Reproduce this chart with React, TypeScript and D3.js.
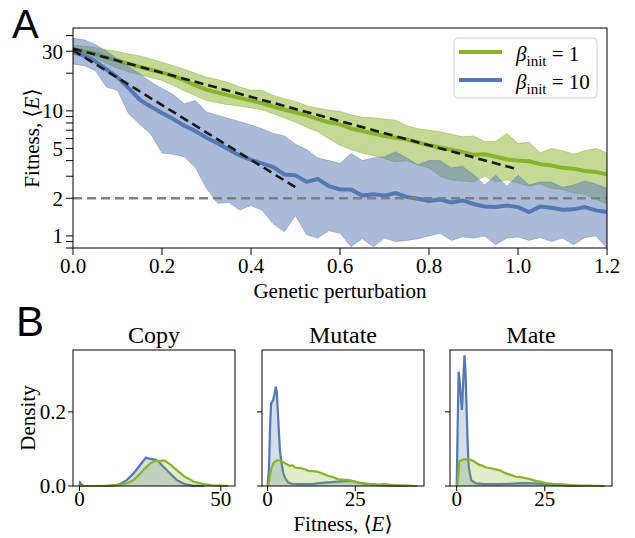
import React from "react";
import * as d3 from "d3";

// panel A: fitness vs genetic perturbation (mean and band for two beta_init)
const perturbation = [
  0, 0.025, 0.05, 0.075, 0.1, 0.125, 0.15, 0.175, 0.2, 0.225, 0.25, 0.275, 0.3, 0.325, 0.35, 0.375,
  0.4, 0.425, 0.45, 0.475, 0.5, 0.525, 0.55, 0.575, 0.6, 0.625, 0.65, 0.675, 0.7, 0.725, 0.75, 0.775,
  0.8, 0.825, 0.85, 0.875, 0.9, 0.925, 0.95, 0.975, 1.0, 1.025, 1.05, 1.075, 1.1, 1.125, 1.15, 1.175, 1.2
];
const meanBeta1 = [
  31.0, 30.0, 28.5, 26.8, 25.2, 23.8, 22.5, 21.3, 20.2, 19.0, 17.6, 16.0, 14.8, 14.0, 13.3, 12.7,
  12.1, 11.5, 10.8, 10.2, 9.7, 9.2, 8.6, 8.1, 7.8, 7.2, 6.9, 6.6, 6.3, 6.1, 5.9, 5.6,
  5.3, 5.1, 4.9, 4.7, 4.45, 4.5, 4.3, 4.1, 4.0, 3.95, 3.75, 3.65, 3.5, 3.45, 3.3, 3.25, 3.1
];
const upperBeta1 = [
  33.5, 33, 32, 30.8, 29.8, 28.5, 27.5, 26, 24.5, 23, 21.5, 20, 18.6, 17.8, 16.8, 15.5,
  14.6, 14.6, 13.3, 12.5, 11.9, 11.0, 10.5, 10.1, 9.9, 9.3, 8.9, 8.8, 8.6, 8.4, 7.6, 7.2,
  7.0, 6.8, 6.5, 6.2, 6.3, 5.7, 5.7, 6.6, 5.5, 5.6, 4.6, 5.0, 4.8, 4.5, 4.8, 5.0, 4.6
];
const lowerBeta1 = [
  28.5, 28, 26.5, 24, 22, 20.5, 19.5, 18.5, 17.5, 16, 14.5, 13.2, 12.1, 11.6, 11.2, 10.9,
  10.6, 10.2, 9.5, 8.8, 8.1, 7.4, 6.8, 6.0, 5.3, 4.9, 4.6, 4.4, 4.15, 3.9, 4.0, 3.7,
  3.5, 3.0, 2.8, 2.75, 2.7, 3.0, 2.7, 2.8, 2.65, 2.5, 2.6, 2.4, 2.35, 2.2, 2.15, 1.95, 1.8
];
const meanBeta10 = [
  29.8, 27.5, 25, 21.5, 18.6, 15.2, 12.3, 10.8, 9.6, 8.6, 7.6, 6.9, 6.1, 5.5, 4.9, 4.4,
  4.05, 3.8, 3.55, 3.1, 3.05, 2.7, 2.85, 2.5, 2.35, 2.35, 2.1, 2.15, 2.1, 2.2, 2.05, 1.98,
  1.9, 1.95, 1.85, 1.92, 1.8, 1.72, 1.7, 1.75, 1.7, 1.55, 1.72, 1.68, 1.62, 1.63, 1.7, 1.6, 1.55
];
const upperBeta10 = [
  38, 37, 34, 30, 26, 22.5, 19.8, 17, 15.1, 13.5, 11.4, 12.1, 9.8, 9.2, 8.7, 8.2,
  7.7, 7.2, 6.6, 6.3, 5.4, 4.9, 4.2, 4.0, 3.8, 4.56, 4.0, 4.2, 4.3, 4.7, 4.2, 3.7,
  4.0, 4.0, 3.5, 3.6, 3.1, 2.55, 3.06, 2.5, 3.06, 2.55, 2.7, 2.7, 2.45, 2.55, 2.75, 2.6, 2.4
];
const lowerBeta10 = [
  23.7, 23, 21, 15.5, 14.6, 9.5, 7.8, 6.5, 4.6, 4.5, 4.3, 3.5, 2.4, 1.82, 1.85, 1.61,
  1.75, 1.6, 1.25, 1.08, 1.45, 1.02, 0.96, 1.1, 1.05, 0.82, 0.95, 0.82, 0.96, 0.9, 0.92, 0.95,
  1.0, 1.05, 0.92, 0.98, 0.96, 1.0, 0.85, 0.96, 0.98, 0.92, 0.97, 0.9, 0.96, 0.85, 0.97, 1.0, 0.8
];
// exponential fits (endpoints)
const fitBeta1: [number, number][] = [[0, 31.5], [1.0, 3.4]];
const fitBeta10: [number, number][] = [[0, 30.5], [0.5, 2.45]];
const thresholdE = 2;

const xTicksA = [0, 0.2, 0.4, 0.6, 0.8, 1.0, 1.2];
const yLabelsA = [1, 2, 5, 10, 30];

// panel B: fitness densities
const copyBeta10: [number, number][] = [
  [0, 0], [0.2, 0.009], [0.8, 0.003], [1.5, 0], [11, 0], [12.5, 0.002], [14.4, 0.005], [16.7, 0.016],
  [19.1, 0.034], [21.4, 0.056], [23.0, 0.072], [23.6, 0.077], [24.5, 0.074], [25.6, 0.073], [27.1, 0.07],
  [28, 0.066], [29.1, 0.056], [30.5, 0.046], [32, 0.034], [34.4, 0.016], [37.3, 0.005], [40, 0.001], [44, 0]
];
const copyBeta1: [number, number][] = [
  [0, 0], [5, 0], [10, 0.001], [14.4, 0.003], [17, 0.008], [19.1, 0.016], [21, 0.03], [22.6, 0.043],
  [25, 0.061], [26.2, 0.066], [27.3, 0.068], [28.5, 0.067], [29.5, 0.069], [30.3, 0.068], [31, 0.064],
  [32, 0.059], [34.4, 0.043], [37.3, 0.025], [40.3, 0.012], [43.8, 0.005], [47, 0.002], [49.7, 0.001], [52.5, 0]
];
const mutateBeta10: [number, number][] = [
  [0, 0], [0.4, 0.05], [0.7, 0.16], [1.0, 0.223], [1.6, 0.232], [2.0, 0.25], [2.3, 0.268], [2.6, 0.255],
  [2.85, 0.214], [3.2, 0.15], [3.5, 0.097], [4.0, 0.06], [4.5, 0.034], [5.2, 0.018], [5.9, 0.009], [7, 0.006],
  [9.7, 0.005], [13, 0.006], [16.3, 0.009], [20.1, 0.012], [22, 0.013], [23.9, 0.014], [25.5, 0.01],
  [27.7, 0.006], [31, 0.003], [35, 0.001], [40, 0]
];
const mutateBeta1: [number, number][] = [
  [0, 0], [0.4, 0.01], [0.8, 0.035], [1.1, 0.048], [1.7, 0.063], [2.5, 0.068], [3.2, 0.07], [4.0, 0.067],
  [5.0, 0.061], [5.7, 0.058], [6.4, 0.054], [7.1, 0.056], [7.8, 0.05], [8.7, 0.049], [9.7, 0.048],
  [10.5, 0.045], [11.6, 0.041], [13, 0.04], [14.4, 0.038], [15.8, 0.033], [17.3, 0.027], [18.7, 0.024],
  [20.1, 0.018], [21.5, 0.017], [23, 0.016], [24.4, 0.013], [25.8, 0.009], [27.7, 0.007], [29.6, 0.005],
  [31.5, 0.004], [33.4, 0.005], [35.3, 0.003], [37.2, 0.002], [40, 0.001], [42.6, 0]
];
const mateBeta10: [number, number][] = [
  [0, 0], [0.25, 0.15], [0.55, 0.308], [0.8, 0.29], [1.1, 0.25], [1.5, 0.205], [1.8, 0.27], [2.2, 0.353],
  [2.5, 0.31], [2.8, 0.214], [3.1, 0.12], [3.4, 0.052], [4.1, 0.016], [5.5, 0.007], [8, 0.005], [12, 0.005],
  [15, 0.006], [18.7, 0.008], [22, 0.007], [25, 0.005], [28, 0.003], [32, 0.001], [36, 0]
];
const mateBeta1: [number, number][] = [
  [0, 0], [0.3, 0.01], [0.75, 0.066], [1.5, 0.07], [2.2, 0.072], [3.6, 0.072], [5.0, 0.066], [6.4, 0.057],
  [7.3, 0.055], [8.3, 0.05], [9.7, 0.048], [11.1, 0.045], [12.5, 0.041], [14.0, 0.034], [15.4, 0.03],
  [16.8, 0.025], [18.2, 0.024], [19.6, 0.021], [21, 0.018], [22.5, 0.014], [23.9, 0.011], [25.3, 0.008],
  [27.2, 0.006], [29.1, 0.005], [31, 0.004], [33.4, 0.002], [37.6, 0.001], [42, 0]
];

const GREEN = "#89b32d";
const BLUE = "#5577b4";
const SERIF = "'Liberation Serif', 'DejaVu Serif', serif";
const SANS = "'Liberation Sans', Arial, sans-serif";

function PanelA() {
  const margin = { left: 73, right: 607, top: 28, bottom: 248 };
  const x = d3.scaleLinear().domain([0, 1.2]).range([margin.left, margin.right]);
  const y = d3.scaleLog().domain([0.8, 46]).range([margin.bottom, margin.top]);

  const idx = d3.range(perturbation.length);
  const band = (lo: number[], hi: number[]) =>
    d3.area<number>().x((i) => x(perturbation[i])).y0((i) => y(lo[i])).y1((i) => y(hi[i]))(idx) || "";
  const line = (v: number[]) => d3.line<number>().x((i) => x(perturbation[i])).y((i) => y(v[i]))(idx) || "";
  const fit = (pts: [number, number][]) => d3.line<[number, number]>().x((d) => x(d[0])).y((d) => y(d[1]))(pts) || "";

  const minor = y.ticks();
  return (
    <g>
      <defs>
        <clipPath id="clipA">
          <rect x={margin.left} y={margin.top} width={margin.right - margin.left} height={margin.bottom - margin.top} />
        </clipPath>
      </defs>
      <g clipPath="url(#clipA)">
        <path d={band(lowerBeta1, upperBeta1)} fill={GREEN} fillOpacity={0.5} stroke={GREEN} strokeOpacity={0.6} strokeWidth={0.8} />
        <path d={line(meanBeta1)} fill="none" stroke={GREEN} strokeWidth={4} />
        <path d={band(lowerBeta10, upperBeta10)} fill={BLUE} fillOpacity={0.5} stroke={BLUE} strokeOpacity={0.5} strokeWidth={0.8} />
        <path d={line(meanBeta10)} fill="none" stroke={BLUE} strokeWidth={4} />
        <path d={fit(fitBeta1)} fill="none" stroke="#1a1a1a" strokeWidth={2.6} strokeDasharray="9,5" />
        <path d={fit(fitBeta10)} fill="none" stroke="#1a1a1a" strokeWidth={2.6} strokeDasharray="9,5" />
        <line x1={margin.left} x2={margin.right} y1={y(thresholdE)} y2={y(thresholdE)} stroke="#808080" strokeWidth={2.4} strokeDasharray="9,5" />
      </g>
      <rect x={margin.left} y={margin.top} width={margin.right - margin.left} height={margin.bottom - margin.top} fill="none" stroke="#000" strokeWidth={1} />
      {minor.map((t) => (
        <line key={"m" + t} x1={margin.left - 7} x2={margin.left} y1={y(t)} y2={y(t)} stroke="#000" strokeWidth={1} />
      ))}
      {yLabelsA.map((t) => (
        <text key={"yl" + t} x={margin.left - 10} y={y(t)} dy="0.35em" textAnchor="end" fontFamily={SERIF} fontSize={21}>
          {t}
        </text>
      ))}
      {xTicksA.map((t) => (
        <g key={"x" + t}>
          <line x1={x(t)} x2={x(t)} y1={margin.bottom} y2={margin.bottom + 7} stroke="#000" strokeWidth={1} />
          <text x={x(t)} y={273} textAnchor="middle" fontFamily={SERIF} fontSize={21}>
            {t.toFixed(1)}
          </text>
        </g>
      ))}
      <text x={(margin.left + margin.right) / 2} y={298} textAnchor="middle" fontFamily={SERIF} fontSize={21}>
        Genetic perturbation
      </text>
      <text transform={`translate(39,${(margin.top + margin.bottom) / 2}) rotate(-90)`} textAnchor="middle" fontFamily={SERIF} fontSize={21}>
        Fitness, ⟨<tspan fontStyle="italic">E</tspan>⟩
      </text>
      {/* legend */}
      <rect x={454} y={38} width={143} height={60} rx={4} fill="#fff" fillOpacity={0.85} stroke="#d0d0d0" strokeWidth={1} />
      {[
        { color: GREEN, label: "1", yy: 52 },
        { color: BLUE, label: "10", yy: 80 }
      ].map((d) => (
        <g key={d.label}>
          <line x1={459} x2={502} y1={d.yy} y2={d.yy} stroke={d.color} strokeWidth={4} />
          <text x={516} y={d.yy + 9} fontFamily={SERIF} fontSize={21}>
            <tspan fontStyle="italic">β</tspan>
            <tspan fontSize={15} dy={5}>init</tspan>
            <tspan dy={-5}>{" = " + d.label}</tspan>
          </text>
        </g>
      ))}
      <text x={12} y={38} fontFamily={SANS} fontSize={40}>A</text>
    </g>
  );
}

interface DensityProps {
  left: number;
  right: number;
  title: string;
  domain: [number, number];
  ticks: number[];
  beta10: [number, number][];
  beta1: [number, number][];
  showYLabels: boolean;
}

function DensityPanel({ left, right, title, domain, ticks, beta10, beta1, showYLabels }: DensityProps) {
  const top = 350;
  const bottom = 486;
  const x = d3.scaleLinear().domain(domain).range([left, right]);
  const y = d3.scaleLinear().domain([0, 0.367]).range([bottom, top]);
  const area = d3.area<[number, number]>().x((d) => x(d[0])).y0(y(0)).y1((d) => y(d[1]));
  const line = d3.line<[number, number]>().x((d) => x(d[0])).y((d) => y(d[1]));
  const yTicks = [0, 0.2];
  return (
    <g>
      <path d={area(beta10) || ""} fill={BLUE} fillOpacity={0.25} />
      <path d={line(beta10) || ""} fill="none" stroke={BLUE} strokeWidth={2.2} />
      <path d={area(beta1) || ""} fill={GREEN} fillOpacity={0.25} />
      <path d={line(beta1) || ""} fill="none" stroke={GREEN} strokeWidth={2.2} />
      <rect x={left} y={top} width={right - left} height={bottom - top} fill="none" stroke="#000" strokeWidth={1} />
      {yTicks.map((t) => (
        <g key={"y" + t}>
          <line x1={left - 5} x2={left} y1={y(t)} y2={y(t)} stroke="#000" strokeWidth={1} />
          {showYLabels ? (
            <text x={left - 7} y={y(t)} dy="0.35em" textAnchor="end" fontFamily={SERIF} fontSize={21}>
              {t.toFixed(1)}
            </text>
          ) : null}
        </g>
      ))}
      {ticks.map((t) => (
        <g key={"x" + t}>
          <line x1={x(t)} x2={x(t)} y1={bottom} y2={bottom + 5} stroke="#000" strokeWidth={1} />
          <text x={x(t)} y={506} textAnchor="middle" fontFamily={SERIF} fontSize={21}>
            {t}
          </text>
        </g>
      ))}
      <text x={(left + right) / 2} y={343} textAnchor="middle" fontFamily={SERIF} fontSize={24}>
        {title}
      </text>
    </g>
  );
}

export default function App() {
  return (
    <svg width={635} height={538} style={{ position: "absolute", left: 0, top: 0, background: "#fff" }}>
      <rect width={635} height={538} fill="#fff" />
      <PanelA />
      <DensityPanel left={73} right={235} title="Copy" domain={[-2.3, 55]} ticks={[0, 50]} beta10={copyBeta10} beta1={copyBeta1} showYLabels />
      <DensityPanel left={262} right={424} title="Mutate" domain={[-1.6, 44.6]} ticks={[0, 25]} beta10={mutateBeta10} beta1={mutateBeta1} showYLabels={false} />
      <DensityPanel left={450} right={612} title="Mate" domain={[-1.9, 44.1]} ticks={[0, 25]} beta10={mateBeta10} beta1={mateBeta1} showYLabels={false} />
      <text transform="translate(35,418) rotate(-90)" textAnchor="middle" fontFamily={SERIF} fontSize={21}>
        Density
      </text>
      <text x={343} y={531} textAnchor="middle" fontFamily={SERIF} fontSize={21}>
        Fitness, ⟨<tspan fontStyle="italic">E</tspan>⟩
      </text>
      <text x={16} y={336} fontFamily={SANS} fontSize={42}>B</text>
    </svg>
  );
}
